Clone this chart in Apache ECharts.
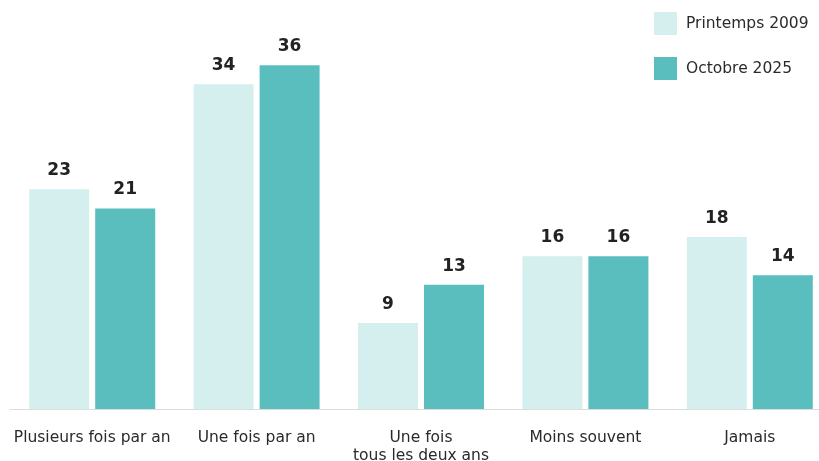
<!DOCTYPE html>
<html>
<head>
<meta charset="utf-8">
<script src="https://cdn.jsdelivr.net/npm/echarts@6/dist/echarts.min.js"></script>
<style>
  html, body { margin: 0; padding: 0; background: #fff; }
  #chart { width: 819px; height: 461px; }
</style>
</head>
<body>
<div id="chart"></div>
<script>
const categories = ['Plusieurs fois par an', 'Une fois par an', 'Une fois\ntous les deux ans', 'Moins souvent', 'Jamais']
const seriesNames = ['Printemps 2009', 'Octobre 2025']
const spring2009 = [23, 34, 9, 16, 18]
const october2025 = [21, 36, 13, 16, 14]
const colors = ['#d5eeee', '#5bbebe']

const fontFamily = '"DejaVu Sans", sans-serif'

const chart = echarts.init(document.getElementById('chart'))

const makeSeries = (name, data, color) => ({
  name,
  type: 'bar',
  data,
  barWidth: 60,
  barGap: '10%',
  itemStyle: { color },
  label: {
    show: true,
    position: 'top',
    distance: 10,
    color: '#222',
    fontFamily,
    fontWeight: 'bold',
    fontSize: 17
  }
})

chart.setOption({
  animation: false,
  color: colors,
  legend: {
    orient: 'vertical',
    left: 649,
    top: 7,
    itemWidth: 23,
    itemHeight: 23,
    itemGap: 22,
    icon: 'rect',
    textStyle: { color: '#2a2a2a', fontFamily, fontSize: 15.5, padding: [0, 0, 0, 4] },
    data: seriesNames
  },
  grid: {
    left: 10,
    width: 822,
    top: 27,
    bottom: 52,
    containLabel: false,
    outerBoundsMode: 'none'
  },
  xAxis: {
    type: 'category',
    data: categories,
    axisLine: { lineStyle: { color: '#dcdcdc', width: 1 } },
    axisTick: { show: false },
    axisLabel: {
      color: '#2a2a2a',
      fontFamily,
      fontSize: 15.5,
      margin: 20,
      lineHeight: 18,
      interval: 0
    }
  },
  yAxis: {
    type: 'value',
    min: 0,
    max: 40,
    show: false,
    splitLine: { show: false }
  },
  series: [
    makeSeries(seriesNames[0], spring2009, colors[0]),
    makeSeries(seriesNames[1], october2025, colors[1])
  ]
})
</script>
</body>
</html>
